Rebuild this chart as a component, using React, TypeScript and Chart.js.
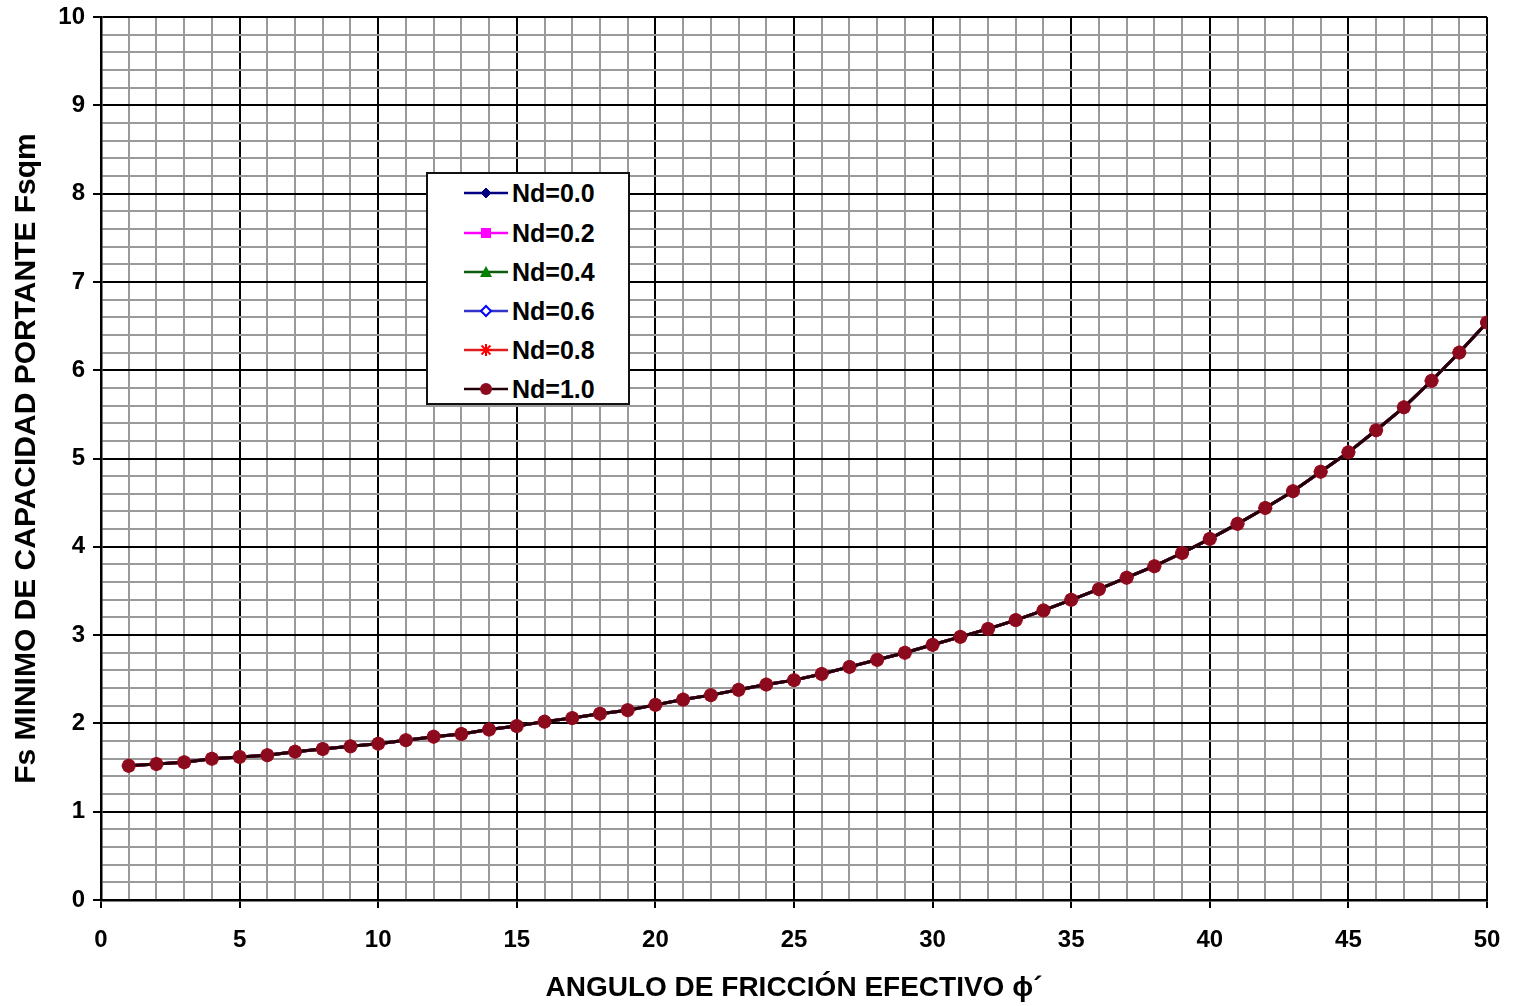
import React, { useEffect, useRef } from 'react';
import { Chart, registerables } from 'chart.js';

Chart.register(...registerables);

// ---- data ----
const angles: number[] = [
  1, 2, 3, 4, 5, 6, 7, 8, 9, 10,
  11, 12, 13, 14, 15, 16, 17, 18, 19, 20,
  21, 22, 23, 24, 25, 26, 27, 28, 29, 30,
  31, 32, 33, 34, 35, 36, 37, 38, 39, 40,
  41, 42, 43, 44, 45, 46, 47, 48, 49, 50,
];

// all six Nd series coincide in the picture
const fsqm: number[] = [
  1.52, 1.54, 1.56, 1.60, 1.62, 1.64, 1.68, 1.71, 1.74, 1.77,
  1.81, 1.85, 1.88, 1.93, 1.97, 2.02, 2.06, 2.11, 2.15, 2.21,
  2.27, 2.32, 2.38, 2.44, 2.49, 2.56, 2.64, 2.72, 2.80, 2.89,
  2.98, 3.07, 3.17, 3.28, 3.40, 3.52, 3.65, 3.78, 3.93, 4.09,
  4.26, 4.44, 4.63, 4.85, 5.07, 5.32, 5.58, 5.88, 6.20, 6.54,
];

const seriesLabels: string[] = ['Nd=0.0', 'Nd=0.2', 'Nd=0.4', 'Nd=0.6', 'Nd=0.8', 'Nd=1.0'];
const seriesValues: number[][] = [fsqm, fsqm, fsqm, fsqm, fsqm, fsqm];

const xTitle = 'ANGULO DE FRICCIÓN EFECTIVO \u03D5\u00B4';
const yTitle = 'Fs MINIMO DE CAPACIDAD PORTANTE Fsqm';

// ---- styles ----
type Sty = { line: string; point: string; fill: string; shape: any; radius: number; bw: number };
const styles: Sty[] = [
  { line: '#000080', point: '#000080', fill: '#000080', shape: 'rectRot', radius: 5, bw: 1 },
  { line: '#FF00FF', point: '#FF00FF', fill: '#FF00FF', shape: 'rect', radius: 5, bw: 1 },
  { line: '#0B5D0B', point: '#008000', fill: '#008000', shape: 'triangle', radius: 6, bw: 1 },
  { line: '#3333CC', point: '#0000FF', fill: '#FFFFFF', shape: 'rectRot', radius: 5, bw: 2 },
  { line: '#E02020', point: '#FF0000', fill: '#FF0000', shape: 'star', radius: 7, bw: 2 },
  { line: '#200006', point: '#8B0A1E', fill: '#8B0A1E', shape: 'circle', radius: 6.5, bw: 1 },
];

const FONT = "'Liberation Sans', Arial, sans-serif";

const isMajorY = (v: number) => Math.abs(v - Math.round(v)) < 1e-6;
const isMajorX = (v: number) => Math.abs(v / 5 - Math.round(v / 5)) < 1e-6;

function LegendMarker({ s }: { s: Sty }) {
  const cx = 22, cy = 10;
  let marker: any = null;
  if (s.shape === 'rectRot') {
    const r = 5;
    marker = <polygon points={`${cx},${cy - r} ${cx + r},${cy} ${cx},${cy + r} ${cx - r},${cy}`} fill={s.fill} stroke={s.point} strokeWidth={s.bw} />;
  } else if (s.shape === 'rect') {
    marker = <rect x={cx - 5} y={cy - 5} width={10} height={10} fill={s.fill} />;
  } else if (s.shape === 'triangle') {
    marker = <polygon points={`${cx},${cy - 6} ${cx + 6},${cy + 5} ${cx - 6},${cy + 5}`} fill={s.fill} />;
  } else if (s.shape === 'star') {
    marker = (
      <g stroke={s.point} strokeWidth={2}>
        <line x1={cx - 6} y1={cy} x2={cx + 6} y2={cy} />
        <line x1={cx} y1={cy - 6} x2={cx} y2={cy + 6} />
        <line x1={cx - 4.5} y1={cy - 4.5} x2={cx + 4.5} y2={cy + 4.5} />
        <line x1={cx - 4.5} y1={cy + 4.5} x2={cx + 4.5} y2={cy - 4.5} />
      </g>
    );
  } else {
    marker = <circle cx={cx} cy={cy} r={6} fill={s.fill} />;
  }
  return (
    <svg width={46} height={20} style={{ position: 'absolute', left: 36, top: 5 }}>
      <line x1={0} y1={cy} x2={44} y2={cy} stroke={s.line} strokeWidth={2.5} />
      {marker}
    </svg>
  );
}

export default function App() {
  const canvasRef = useRef<HTMLCanvasElement | null>(null);

  useEffect(() => {
    if (!canvasRef.current) return;
    const datasets = seriesLabels.map((label, i) => ({
      label,
      data: angles.map((a, j) => ({ x: a, y: seriesValues[i][j] })),
      borderColor: styles[i].line,
      backgroundColor: styles[i].fill,
      pointBorderColor: styles[i].point,
      pointBackgroundColor: styles[i].fill,
      pointStyle: styles[i].shape,
      pointRadius: styles[i].radius,
      pointBorderWidth: styles[i].bw,
      borderWidth: 3,
      tension: 0,
      order: seriesLabels.length - 1 - i,
    }));

    const chart = new Chart(canvasRef.current, {
      type: 'line',
      data: { datasets },
      options: {
        animation: false,
        responsive: true,
        maintainAspectRatio: false,
        layout: { padding: { top: 17, right: 33, bottom: 0, left: 0 } },
        plugins: { legend: { display: false }, tooltip: { enabled: false } },
        scales: {
          x: {
            type: 'linear',
            min: 0,
            max: 50,
            afterFit: (scale: any) => {
              scale.height = 106;
              scale.paddingLeft = 0;
              scale.paddingRight = 0;
            },
            ticks: {
              stepSize: 1,
              autoSkip: false,
              maxTicksLimit: 200,
              maxRotation: 0,
              padding: 18,
              color: '#000',
              font: { family: FONT, size: 24, weight: 'bold' },
              callback: (v: any) => (isMajorX(Number(v)) ? String(Math.round(Number(v))) : ''),
            },
            grid: {
              color: (ctx: any) => (isMajorX(ctx.tick.value) ? '#000000' : '#9A9A9A'),
              lineWidth: 2,
              tickColor: (ctx: any) => (isMajorX(ctx.tick.value) ? '#000000' : 'rgba(0,0,0,0)'),
              tickLength: 8,
              drawTicks: true,
            },
            border: { display: true, color: '#000', width: 2.5 },
            title: {
              display: true,
              text: xTitle,
              color: '#000',
              font: { family: FONT, size: 28, weight: 'bold' },
              padding: { top: 0, bottom: 1 },
            },
          },
          y: {
            type: 'linear',
            min: 0,
            max: 10,
            afterFit: (scale: any) => {
              scale.width = 101;
              scale.paddingTop = 0;
              scale.paddingBottom = 0;
            },
            ticks: {
              stepSize: 0.2,
              autoSkip: false,
              maxTicksLimit: 200,
              padding: 8,
              color: '#000',
              font: { family: FONT, size: 24, weight: 'bold' },
              callback: (v: any) => (isMajorY(Number(v)) ? String(Math.round(Number(v))) : ''),
            },
            grid: {
              color: (ctx: any) => (isMajorY(ctx.tick.value) ? '#000000' : '#9A9A9A'),
              lineWidth: 2,
              tickColor: (ctx: any) => (isMajorY(ctx.tick.value) ? '#000000' : 'rgba(0,0,0,0)'),
              tickLength: 8,
              drawTicks: true,
            },
            border: { display: true, color: '#000', width: 2.5 },
            title: {
              display: true,
              text: yTitle,
              color: '#000',
              font: { family: FONT, size: 30, weight: 'bold' },
              padding: { top: 9, bottom: 0 },
            },
          },
        },
      } as any,
    });
    return () => chart.destroy();
  }, []);

  const rowCenters = [19, 59, 98, 137, 176, 215];

  return (
    <div style={{ position: 'absolute', left: 0, top: 0, width: 1520, height: 1006, background: '#fff' }}>
      <canvas ref={canvasRef} />
      <div
        style={{
          position: 'absolute',
          left: 426,
          top: 172,
          width: 200,
          height: 229,
          border: '2px solid #111',
          background: '#fff',
          fontFamily: FONT,
        }}
      >
        {seriesLabels.map((lab, i) => (
          <div key={lab} style={{ position: 'absolute', left: 0, top: rowCenters[i] - 15, width: 200, height: 30 }}>
            <LegendMarker s={styles[i]} />
            <span
              style={{
                position: 'absolute',
                left: 84,
                top: 0,
                lineHeight: '30px',
                fontSize: 25,
                fontWeight: 'bold',
                color: '#000',
                whiteSpace: 'nowrap',
              }}
            >
              {lab}
            </span>
          </div>
        ))}
      </div>
    </div>
  );
}
